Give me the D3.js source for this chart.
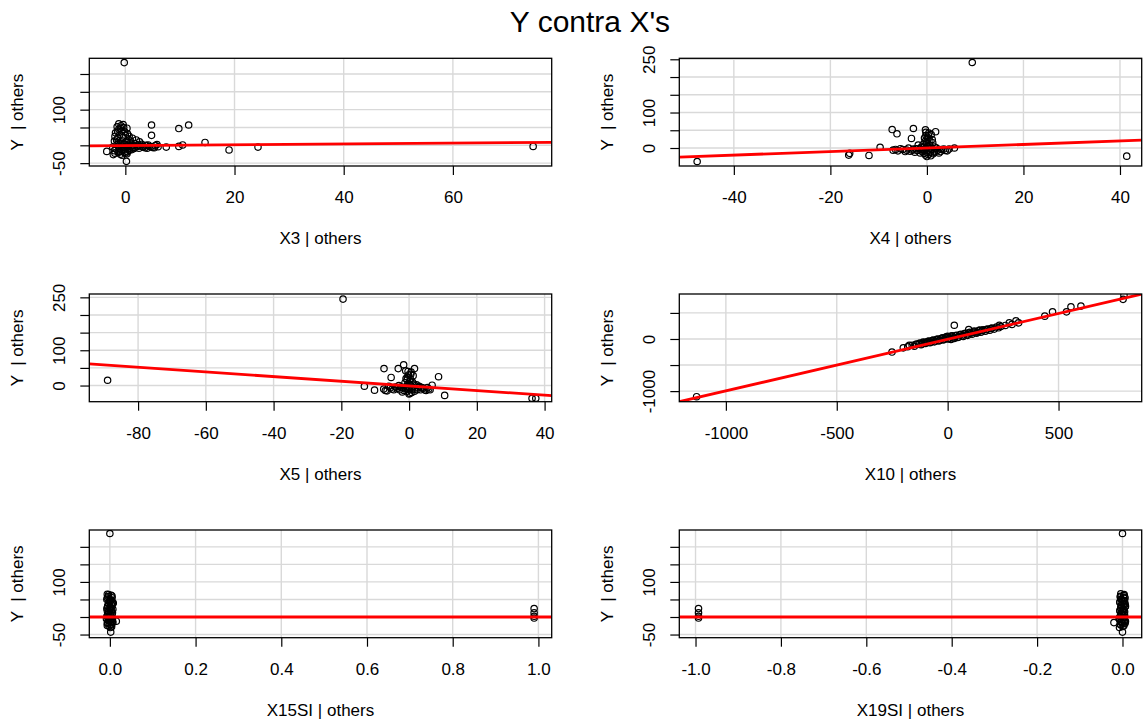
<!DOCTYPE html>
<html>
<head>
<meta charset="utf-8">
<script src="https://cdn.jsdelivr.net/npm/d3@7"></script>
<style>
  body { margin: 0; background: #fff; }
  svg { display: block; }
  text { font-family: "Liberation Sans", Arial, sans-serif; fill: #000; }
</style>
</head>
<body>
<div id="chart"></div>
<script>
// values (added-variable plots)
var panelVars = ["X3", "X4", "X5", "X10", "X15SI", "X19SI"];

var ptsX3 = [[-0.2,232],[0.2,-45],[-3.4,-17],[4.8,57],[4.8,28],[9.8,47],[11.6,57],[10.5,1],[9.8,-3],
  [14.6,8],[19.0,-13],[24.3,-5],[74.7,-3],[7.5,-5],[2.0,15],
  [-1.5,52],[-0.8,55],[-0.3,50],[-1.2,45],[0.3,48],[-0.6,40],[-1.8,35],[-1.0,30],[0.0,28],[-0.4,22],
  [-1.4,20],[0.5,18],[-2.0,12],[-0.8,10],[0.2,8],[1.0,6],[-1.5,3],[-0.5,2],[0.6,0],[1.5,-1],
  [-1.1,-4],[-0.2,-6],[0.8,-8],[2.2,-3],[-1.7,-10],[-0.6,-14],[0.4,-18],[1.2,-12],[-1.3,-20],[0.0,-22],
  [-0.9,-25],[2.8,-2],[3.3,-5],[3.8,0],[4.4,-3],[5.0,-6],[5.5,-1],[6.0,-4],[2.5,-8],[1.8,4],
  [3.0,3],[4.0,-8],[-2.3,-5],[-2.0,-15],[0.9,12],[1.4,-6],[-0.3,-12],[0.2,-2],
  [-1.9,25],[-1.6,15],[-1.2,5],[-0.7,-2],[-0.1,3],[0.5,-4],[1.1,-2],[1.7,-5],[2.4,1],[3.1,-3],
  [3.6,-7],[4.2,1],[4.7,-4],[5.3,-7],[5.8,2],[-1.9,-22],[-1.0,-17],[-0.2,-20],[0.7,-14],[1.6,-9],
  [-1.4,38],[-0.9,48],[-0.1,38],[0.4,32],[-1.2,60],[-0.4,58],[0.7,25],[1.3,20],[2.6,10],[-2.2,-26],
  [-0.6,-28],[0.3,-24]];

var ptsX4 = [[9.4,241],[41.4,-23],[-47.6,-38],[-7.2,52],[-6.2,40],[-2.8,55],[-3.2,27],[-0.3,51],[1.8,46],
  [-9.7,2],[-16.0,-15],[-16.2,-20],[-12.0,-21],[5.7,0],
  [-7.0,-6],[-6.0,-8],[-5.0,-4],[-4.2,-6],[-3.5,-9],[-2.8,-3],[-2.0,-7],[-1.5,-2],[-1.0,-10],[-0.5,5],
  [0.0,12],[0.2,25],[-0.2,35],[0.4,42],[0.1,30],[-0.4,18],[0.6,8],[1.0,-4],[1.5,-12],[2.2,-6],
  [2.8,-10],[3.5,-3],[4.2,-8],[0.3,-18],[-0.6,-15],[0.8,-22],[-1.2,2],[1.2,15],[-2.5,-12],[-3.8,0],
  [2.0,0],[0.5,-2],[-0.8,-6],[1.6,3],[-1.8,8],[0.0,-8],[0.9,38],
  [-0.2,44],[0.3,36],[-0.5,28],[0.6,20],[-0.1,16],[0.2,4],[-0.4,-2],[0.7,-12],[-0.3,-20],[1.3,-16],
  [-1.4,-14],[-2.2,-2],[-3.0,-6],[-4.5,-10],[-5.5,-2],[-6.5,-4],[2.5,-14],[3.0,-4],[3.8,-7],[4.6,-3],
  [1.9,-9],[-1.1,-4],[0.9,0],[0.0,-24],[-0.8,10],[1.1,24]];

var ptsX5 = [[-19.5,245],[-89.0,15],[10.5,-28],[8.7,25],[-13.2,-2],[-10.2,-13],[-7.4,48],[-3.2,48],[-1.6,59],
  [1.6,48],[-5.3,23],[6.8,1],[36.3,-36],[37.4,-36],
  [-7.5,-10],[-6.5,-15],[-5.5,-6],[-4.5,-12],[-3.5,-8],[-2.5,-4],[-1.5,-14],[-0.8,-2],[0.0,5],[0.4,18],
  [-0.2,30],[0.6,38],[-0.5,24],[0.2,12],[1.0,-4],[1.8,-10],[2.6,-6],[3.4,-12],[4.2,-8],[5.0,-14],
  [5.8,-10],[-1.2,8],[1.4,4],[-2.0,-18],[0.8,-20],[-0.4,-8],[2.2,2],[-3.0,0],[3.0,-2],[0.0,-12],
  [-1.0,42],[1.2,28],
  [-0.3,40],[0.5,32],[-0.6,16],[0.3,2],[-0.2,-4],[0.9,-12],[-1.1,-8],[-1.8,-6],[-2.8,-12],[-4.0,-4],
  [-5.0,-10],[-6.0,-2],[-7.0,-14],[1.6,-16],[2.4,-12],[3.8,-6],[4.6,-12],[5.4,-6],[6.2,-12],[-0.6,-16],
  [0.2,-22],[1.0,10],[-0.9,20],[0.0,-24]];

var ptsX10 = [[-1132,-1107],[30,264],[791,760],[795,840],[556,618],[601,631],[536,521],[473,521],[438,438],
  [308,348],[278,309],[233,264],[95,180],[-251,-251],[-173,-122],[-143,-103],
  [-130,-90],[-110,-60],[-100,-85],[-90,-50],[-80,-70],[-70,-30],[-60,-55],[-50,-10],[-40,-40],[-30,10],
  [-20,-20],[-10,30],[0,0],[0,50],[10,20],[20,60],[30,10],[40,70],[50,40],[60,90],[70,50],[80,110],
  [90,70],[100,130],[110,90],[120,150],[130,110],[140,160],[150,130],[160,175],[170,150],[180,190],
  [190,170],[200,210],[210,190],[220,230],[240,240],[-120,-110],[-20,25],[15,-10],
  [-200,-170],[-180,-150],[-160,-120],[-150,-140],[-140,-100],[-125,-80],[-115,-95],[-105,-70],[-95,-65],
  [-85,-40],[-75,-60],[-65,-20],[-55,-40],[-45,0],[-35,-25],[-25,20],[-15,-5],[-5,40],[5,10],[15,50],
  [25,25],[35,60],[45,30],[55,80],[65,60],[75,100],[85,80],[95,120],[105,110],[115,130],[125,140],
  [135,130],[145,170],[155,160],[175,180],[195,200],[230,215],[260,260],[290,280],[320,310]];

var ptsX15SI = [[0.0,238],[0.002,-43],[0.015,-12],[0.99,24],[0.99,12],[0.99,2],[0.99,-3],
  [-0.006,65],[0.003,62],[-0.004,58],[0.005,55],[-0.007,50],[0.002,46],[0.006,42],[-0.003,38],[0.004,34],
  [-0.005,30],[0.001,26],[0.007,22],[-0.006,18],[0.003,14],[-0.002,10],[0.005,6],[-0.007,2],[0.0,-2],
  [0.006,-6],[-0.004,-10],[0.002,-14],[-0.006,-18],[0.004,-22],[-0.002,-26],[0.001,-30],[0.008,40],
  [-0.008,-5],[0.007,-15],
  [-0.003,64],[0.005,60],[-0.006,54],[0.003,48],[-0.002,44],[0.006,36],[-0.005,32],[0.002,28],
  [-0.007,24],[0.004,20],[-0.003,16],[0.006,12],[-0.005,8],[0.002,4],[-0.004,0],[0.005,-4],
  [-0.002,-8],[0.006,-12],[-0.005,-16],[0.003,-20],[-0.006,-24],[0.004,-28],[0.0,50],[0.0,20],[0.0,-10]];

var ptsX19SI = [[0.0,238],[0.0,-43],[-0.02,-16],[-0.993,24],[-0.993,12],[-0.993,2],[-0.993,-3],
  [-0.004,66],[0.003,61],[-0.005,57],[0.004,53],[-0.002,49],[0.005,45],[-0.006,41],[0.002,37],[-0.003,33],
  [0.006,29],[-0.004,25],[0.001,21],[-0.006,17],[0.004,13],[-0.002,9],[0.005,5],[-0.005,1],[0.002,-3],
  [-0.006,-7],[0.004,-11],[-0.002,-15],[0.005,-19],[-0.004,-23],[0.001,-27],[-0.007,-30],[0.006,36],
  [-0.008,-4],[0.007,-12],
  [0.004,64],[-0.005,59],[0.006,55],[-0.003,51],[0.002,47],[-0.006,43],[0.005,39],[-0.002,35],
  [0.007,31],[-0.004,27],[0.003,23],[-0.006,19],[0.005,15],[-0.003,11],[0.004,7],[-0.005,3],
  [0.002,-1],[-0.006,-5],[0.005,-9],[-0.003,-13],[0.006,-17],[-0.005,-21],[0.003,-25],[0.0,44],[0.0,14],[0.0,-18]];

var panelPoints = [ptsX3, ptsX4, ptsX5, ptsX10, ptsX15SI, ptsX19SI];

// fitted line of each added-variable plot
var lineSlope = [0.12, 0.5, -0.66, 0.99, 0, 0];
var lineIntercept = [-1, 0, -1, -5, 0, 0];

var xDomains = [[-6.6, 78.1], [-51.3, 44.5], [-94.4, 42.1], [-1210, 875], [-0.048, 1.031], [-1.038, 0.045]];
var yDomains = [[-58, 244], [-50.7, 252.8], [-45.8, 259.5], [-1203, 863], [-59, 248], [-59, 248]];

var xTicks = [
  [0, 20, 40, 60],
  [-40, -20, 0, 20, 40],
  [-80, -60, -40, -20, 0, 20, 40],
  [-1000, -500, 0, 500],
  [0, 0.2, 0.4, 0.6, 0.8, 1.0],
  [-1.0, -0.8, -0.6, -0.4, -0.2, 0.0]
];
var xDecimals = [0, 0, 0, 0, 1, 1];

var yTicks = [
  [-50, 0, 50, 100, 150, 200],
  [0, 50, 100, 150, 200, 250],
  [0, 50, 100, 150, 200, 250],
  [-1000, -500, 0, 500],
  [-50, 0, 50, 100, 150, 200],
  [-50, 0, 50, 100, 150, 200]
];
// R drops the tick labels that would overlap; these are the ones printed
var yLabelsShown = [
  [-50, 100],
  [0, 100, 250],
  [0, 100, 250],
  [-1000, 0],
  [-50, 100],
  [-50, 100]
];

// layout
var W = 1143, H = 720;
var colLeft = [89.3, 679.3];
var rowTop = [58.3, 294, 530];
var boxW = 462.4, boxH = 107.7;
var tickLen = 9;
var fs = 17;

var svg = d3.select("#chart").append("svg")
    .attr("width", W)
    .attr("height", H);

svg.append("text")
    .attr("x", 590)
    .attr("y", 32)
    .attr("text-anchor", "middle")
    .style("font-size", "30px")
    .text("Y contra X's");

var fmtNum = function (d, dec) {
    return d.toFixed(dec);
};

var drawPanel = function (i) {
    var left = colLeft[i % 2];
    var top = rowTop[Math.floor(i / 2)];

    var x = d3.scaleLinear().domain(xDomains[i]).range([0, boxW]);
    var y = d3.scaleLinear().domain(yDomains[i]).range([boxH, 0]);

    var g = svg.append("g")
        .attr("transform", "translate(" + left + "," + top + ")");

    g.append("clipPath").attr("id", "clip" + i)
      .append("rect").attr("width", boxW).attr("height", boxH);

    // grid
    g.append("g").selectAll("line.gx")
        .data(xTicks[i]).enter().append("line")
        .attr("x1", function (d) { return x(d); })
        .attr("x2", function (d) { return x(d); })
        .attr("y1", 0).attr("y2", boxH)
        .attr("stroke", "#d9d9d9").attr("stroke-width", 1.4);
    g.append("g").selectAll("line.gy")
        .data(yTicks[i]).enter().append("line")
        .attr("y1", function (d) { return y(d); })
        .attr("y2", function (d) { return y(d); })
        .attr("x1", 0).attr("x2", boxW)
        .attr("stroke", "#d9d9d9").attr("stroke-width", 1.4);

    // points
    g.append("g").attr("clip-path", "url(#clip" + i + ")")
        .selectAll("circle")
        .data(panelPoints[i]).enter().append("circle")
        .attr("cx", function (d) { return x(d[0]); })
        .attr("cy", function (d) { return y(d[1]); })
        .attr("r", 3.2)
        .attr("fill", "none")
        .attr("stroke", "#000")
        .attr("stroke-width", 1.2);

    // regression line
    var xd = xDomains[i];
    g.append("line")
        .attr("clip-path", "url(#clip" + i + ")")
        .attr("x1", x(xd[0])).attr("x2", x(xd[1]))
        .attr("y1", y(lineIntercept[i] + lineSlope[i] * xd[0]))
        .attr("y2", y(lineIntercept[i] + lineSlope[i] * xd[1]))
        .attr("stroke", "#ff0000")
        .attr("stroke-width", 2.8);

    // axes
    var xAxis = d3.axisBottom(x)
        .tickValues(xTicks[i])
        .tickSize(tickLen)
        .tickPadding(16)
        .tickFormat(function (d) { return fmtNum(d, xDecimals[i]); });
    var gx = g.append("g").attr("transform", "translate(0," + boxH + ")").call(xAxis);
    gx.select(".domain").remove();
    gx.selectAll(".tick line").attr("stroke", "#000").attr("stroke-width", 1.2);
    gx.selectAll(".tick text").style("font-size", fs + "px").attr("font-family", null);

    var yAxis = d3.axisLeft(y)
        .tickValues(yTicks[i])
        .tickSize(tickLen)
        .tickFormat(function (d) {
            return yLabelsShown[i].indexOf(d) >= 0 ? fmtNum(d, 0) : "";
        });
    var gy = g.append("g").call(yAxis);
    gy.select(".domain").remove();
    gy.selectAll(".tick line").attr("stroke", "#000").attr("stroke-width", 1.2);
    gy.selectAll(".tick text")
        .style("font-size", fs + "px")
        .attr("font-family", null)
        .attr("text-anchor", "middle")
        .attr("transform", "rotate(-90)")
        .attr("x", 0)
        .attr("y", -24)
        .attr("dy", null);

    // box
    g.append("rect")
        .attr("width", boxW).attr("height", boxH)
        .attr("fill", "none")
        .attr("stroke", "#000")
        .attr("stroke-width", 1.3);

    // axis titles
    g.append("text")
        .attr("x", boxW / 2)
        .attr("y", boxH + 78)
        .attr("text-anchor", "middle")
        .style("font-size", fs + "px")
        .text(panelVars[i] + " | others");

    g.append("text")
        .attr("transform", "translate(-66.6," + (boxH / 2) + ") rotate(-90)")
        .attr("text-anchor", "middle")
        .style("font-size", fs + "px")
        .style("white-space", "pre")
        .text("Y  | others");
};

for (var i = 0; i < panelVars.length; i++) {
    drawPanel(i);
}
</script>
</body>
</html>
